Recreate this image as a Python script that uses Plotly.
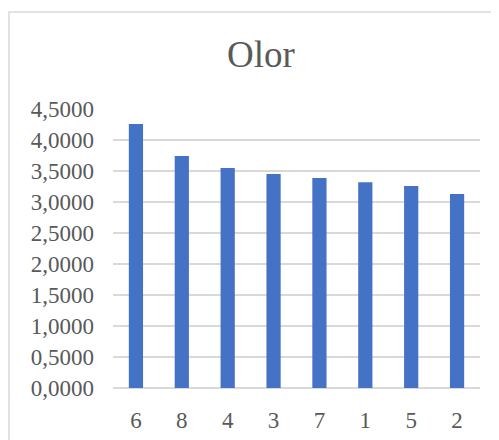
# Bar chart: Olor
import plotly.graph_objs as go

categories = ['6', '8', '4', '3', '7', '1', '5', '2']
values = [4.258, 3.742, 3.548, 3.45, 3.387, 3.32, 3.26, 3.13]
y_ticks = [0, 0.5, 1, 1.5, 2, 2.5, 3, 3.5, 4, 4.5]
y_labels = ['%.4f' % v for v in y_ticks]
y_labels = [s.replace('.', ',') for s in y_labels]

# page body has an 8px margin, so the figure is drawn 8px smaller
OFF = 8
W, H = 499 - OFF, 440 - OFF
L, R, T, B = 113 - OFF, 19, 109 - OFF, 52
pw, ph = W - L - R, H - T - B

fig = go.Figure(
    go.Bar(x=categories, y=values, marker=dict(color='#4472C4', line=dict(width=0)))
)

fig.update_layout(
    width=W, height=H,
    margin=dict(l=L, r=R, t=T, b=B),
    paper_bgcolor='white', plot_bgcolor='white',
    bargap=0.69,
    showlegend=False,
    font=dict(family='Liberation Serif', color='#595959'),
    title=dict(text='Olor', font=dict(size=37, color='#595959'),
               xref='container', x=(261 - OFF) / W, xanchor='center',
               yref='container', y=1 - (54 - OFF) / H, yanchor='middle'),
    xaxis=dict(type='category', tickfont=dict(size=23), showgrid=False,
               showline=False, ticks='', ticklabelstandoff=16,
               automargin=False),
    yaxis=dict(range=[0, 4.5], tickvals=y_ticks, ticktext=y_labels,
               tickfont=dict(size=23), showgrid=True, gridcolor='#D9D9D9',
               gridwidth=1.5, zeroline=True, zerolinecolor='#D9D9D9',
               zerolinewidth=1.5, showline=False, ticks='',
               ticklabelstandoff=18, automargin=False),
    shapes=[dict(type='rect', xref='paper', yref='paper',
                 x0=(9 - OFF - L) / pw, x1=(W + 5 - L) / pw,
                 y0=-(H + 5 - T - ph) / ph, y1=1 + (T - (12 - OFF)) / ph,
                 line=dict(color='#D9D9D9', width=1.5), layer='below')],
)

fig.write_html('out.html')
